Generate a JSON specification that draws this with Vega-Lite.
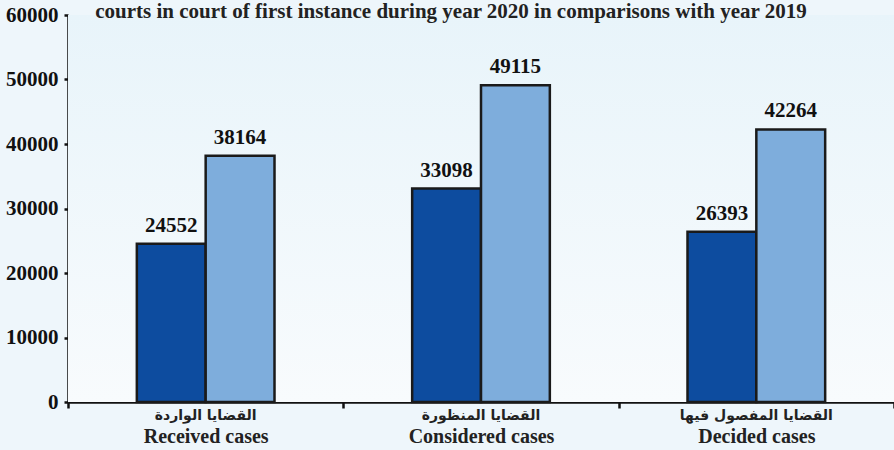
{
  "$schema": "https://vega.github.io/schema/vega-lite/v6.json",
  "autosize": {"type": "none"},
  "padding": {"left": 68, "top": 15, "right": 0, "bottom": 48},
  "width": 826,
  "height": 387,
  "background": "#eef6fb",
  "title": {
    "text": "courts in court of first instance during year 2020 in comparisons with year 2019",
    "font": "Liberation Serif",
    "fontSize": 21,
    "fontWeight": "bold",
    "color": "#222222",
    "anchor": "middle",
    "dx": -30,
    "offset": -18
  },
  "config": {
    "view": {"stroke": null},
    "axis": {"grid": false},
    "axisY": {
      "labelFont": "Liberation Serif",
      "labelFontSize": 21,
      "labelFontWeight": "bold",
      "labelColor": "#111111",
      "domainColor": "#111111",
      "domainWidth": 2.5,
      "tickColor": "#111111",
      "tickWidth": 2.5,
      "tickSize": 4,
      "labelPadding": 6,
      "title": null
    }
  },
  "data": {
    "values": [
      {"category": "Received cases", "year": "2019", "value": 24552},
      {"category": "Received cases", "year": "2020", "value": 38164},
      {"category": "Considered cases", "year": "2019", "value": 33098},
      {"category": "Considered cases", "year": "2020", "value": 49115},
      {"category": "Decided cases", "year": "2019", "value": 26393},
      {"category": "Decided cases", "year": "2020", "value": 42264}
    ]
  },
  "layer": [
    {
      "data": {"values": [{}]},
      "mark": {
        "type": "rect",
        "fill": {
          "gradient": "linear",
          "x1": 0, "y1": 0, "x2": 0, "y2": 1,
          "stops": [
            {"offset": 0, "color": "#e8f4fa"},
            {"offset": 1, "color": "#f8fbfd"}
          ]
        },
        "strokeWidth": 0
      },
      "encoding": {}
    },
    {
      "mark": {"type": "bar", "stroke": "#1a1a1a", "strokeWidth": 2.5},
      "encoding": {
        "x": {
          "field": "category",
          "type": "nominal",
          "sort": ["Received cases", "Considered cases", "Decided cases"],
          "scale": {"paddingInner": 0, "paddingOuter": 0},
          "axis": {
            "orient": "bottom",
            "title": null,
            "labelFont": "Liberation Serif",
            "labelFontSize": 20,
            "labelFontWeight": "bold",
            "labelColor": "#222222",
            "labelAngle": 0,
            "labelBaseline": "top",
            "labelPadding": 18,
            "tickBand": "extent",
            "domainColor": "#111111",
            "domainWidth": 2.5,
            "tickColor": "#111111",
            "tickWidth": 2.5,
            "tickSize": 6
          }
        },
        "xOffset": {
          "field": "year",
          "type": "nominal",
          "scale": {"paddingInner": 0, "paddingOuter": 1.085}
        },
        "y": {
          "field": "value",
          "type": "quantitative",
          "scale": {"domain": [0, 60000], "nice": false},
          "axis": {"values": [0, 10000, 20000, 30000, 40000, 50000, 60000], "format": "d"}
        },
        "color": {
          "field": "year",
          "type": "nominal",
          "scale": {"domain": ["2019", "2020"], "range": ["#0d4c9f", "#7eaddc"]},
          "legend": null
        }
      }
    },
    {
      "mark": {
        "type": "text",
        "dy": -8,
        "baseline": "bottom",
        "font": "Liberation Serif",
        "fontSize": 21,
        "fontWeight": "bold",
        "color": "#111111"
      },
      "encoding": {
        "x": {
          "field": "category",
          "type": "nominal",
          "sort": ["Received cases", "Considered cases", "Decided cases"],
          "axis": {
            "orient": "bottom",
            "title": null,
            "labelExpr": "datum.label == 'Received cases' ? 'القضايا الواردة' : datum.label == 'Considered cases' ? 'القضايا المنظورة' : 'القضايا المفصول فيها'",
            "labelFont": "DejaVu Sans",
            "labelFontSize": 14,
            "labelFontWeight": "bold",
            "labelColor": "#222222",
            "labelAngle": 0,
            "labelBaseline": "top",
            "labelPadding": 6,
            "domain": false,
            "ticks": false,
            "tickSize": 0
          }
        },
        "xOffset": {"field": "year", "type": "nominal"},
        "y": {"field": "value", "type": "quantitative"},
        "text": {"field": "value", "type": "quantitative", "format": "d"}
      }
    }
  ],
  "resolve": {"axis": {"x": "independent"}}
}
